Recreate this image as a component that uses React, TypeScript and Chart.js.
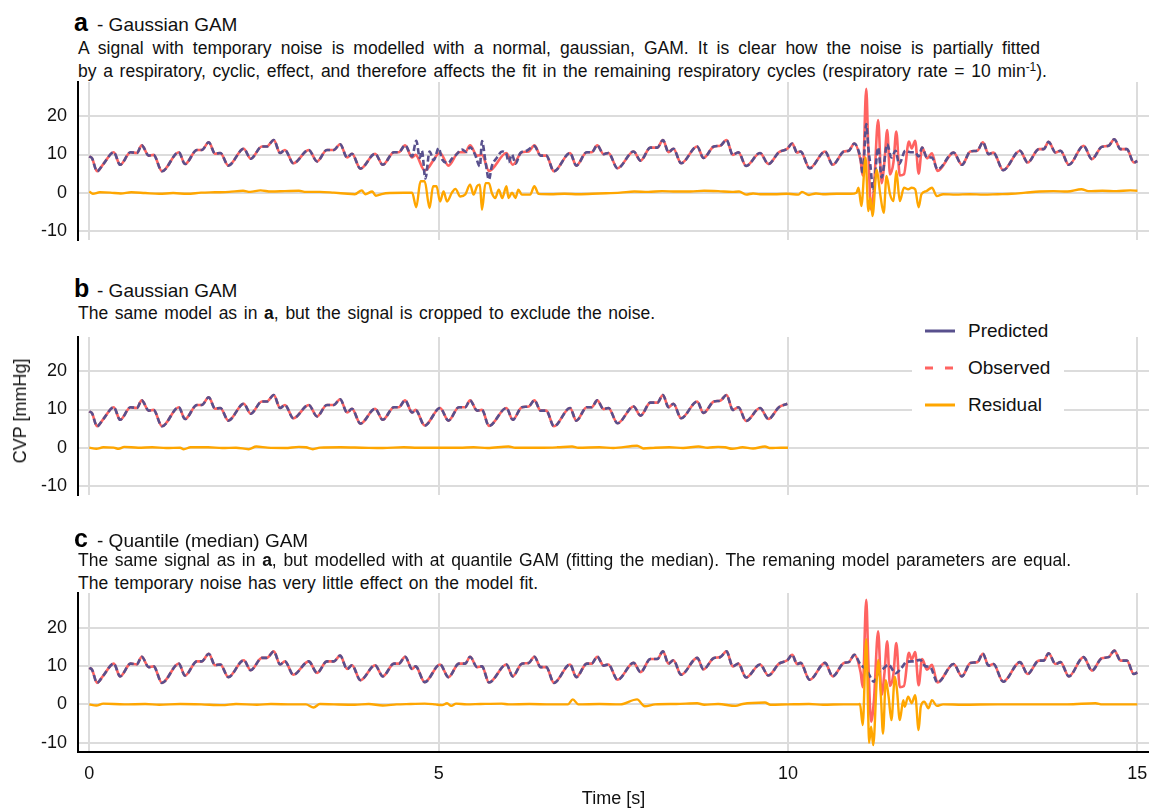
import React, { useEffect, useRef } from "react";
import { Chart, registerables } from "chart.js";

Chart.register(...registerables);

const FONT = "'Liberation Sans', Arial, Helvetica, sans-serif";

// ---- data (time [s], CVP [mmHg]) ----
const observed: [number, number][] = [
  [0.00, 9.5], [0.04, 9.0], [0.11, 5.6], [0.20, 7.5], [0.35, 10.6], [0.44, 7.3], [0.59, 10.6], [0.68, 10.4],
  [0.75, 12.4], [0.85, 9.7], [0.92, 9.9], [1.04, 5.6], [1.28, 10.6], [1.37, 7.5], [1.54, 11.2], [1.61, 11.2],
  [1.71, 13.2], [1.80, 10.2], [1.875, 10.4], [1.99, 7.1], [2.21, 11.5], [2.31, 8.9], [2.47, 12.1], [2.54, 12.1],
  [2.64, 13.8], [2.73, 10.4], [2.80, 11.2], [2.92, 7.7], [3.14, 11.2], [3.26, 8.2], [3.40, 11.2], [3.50, 11.2],
  [3.59, 12.7], [3.69, 9.2], [3.76, 10.2], [3.88, 6.3], [4.09, 10.2], [4.20, 7.3], [4.36, 10.6], [4.43, 10.6],
  [4.52, 12.4], [4.62, 9.2], [4.67, 9.9], [4.80, 5.8], [5.02, 10.4], [5.14, 7.1], [5.29, 10.6], [5.38, 10.6],
  [5.45, 12.4], [5.55, 9.7], [5.62, 9.9], [5.72, 5.7], [5.97, 10.4], [6.06, 7.3], [6.19, 10.6], [6.29, 10.8],
  [6.37, 12.4], [6.46, 9.7], [6.54, 9.7], [6.65, 5.6], [6.88, 10.4], [6.97, 7.1], [7.12, 10.6], [7.19, 10.6],
  [7.27, 12.4], [7.36, 10.1], [7.43, 10.4], [7.56, 6.4], [7.79, 10.8], [7.89, 8.4], [8.03, 11.8], [8.13, 11.8],
  [8.21, 13.8], [8.29, 10.6], [8.36, 11.5], [8.47, 7.7], [8.70, 12.1], [8.79, 9.1], [8.94, 12.1], [9.03, 12.3],
  [9.12, 13.8], [9.21, 9.9], [9.29, 10.6], [9.40, 7.0], [9.60, 10.4], [9.72, 7.5], [9.87, 10.6], [9.99, 11.5],
  [10.06, 12.9], [10.13, 10.5], [10.18, 10.8], [10.31, 6.4], [10.53, 10.8], [10.64, 7.3], [10.80, 10.8], [10.87, 11.0],
  [10.95, 12.9], [11.04, 8.3], [11.07, 4.5], [11.12, 27.2], [11.15, 11.0], [11.19, -4.5], [11.23, 1.0], [11.29, 19.0],
  [11.34, 2.5], [11.38, 8.0], [11.42, 16.4], [11.46, 4.8], [11.51, 8.0], [11.55, 16.0], [11.60, 4.5], [11.66, 4.8],
  [11.73, 13.4], [11.77, 11.6], [11.82, 13.6], [11.87, 5.0], [11.92, 11.8], [11.99, 9.0], [12.06, 10.3], [12.14, 5.7],
  [12.37, 10.5], [12.49, 7.3], [12.61, 10.8], [12.71, 11.0], [12.79, 13.2], [12.87, 10.1], [12.94, 10.5], [13.08, 5.9],
  [13.32, 11.0], [13.43, 7.9], [13.59, 11.4], [13.66, 11.4], [13.73, 13.3], [13.83, 10.5], [13.90, 11.0], [14.02, 7.3],
  [14.23, 12.3], [14.35, 8.8], [14.49, 12.0], [14.59, 12.3], [14.67, 14.0], [14.76, 11.4], [14.85, 11.4], [14.95, 7.9],
  [15.00, 8.3],
];

// Gaussian GAM prediction where it departs from the observed signal
const predictedA_win1: [number, number][] = [
  [4.62, 9.5], [4.68, 13.6], [4.73, 9.1], [4.76, 11.0], [4.81, 3.7], [4.87, 10.8], [4.93, 8.5], [5.00, 11.7],
  [5.05, 8.7], [5.14, 7.8], [5.19, 8.9], [5.26, 10.1], [5.33, 11.3], [5.40, 10.7], [5.45, 11.9], [5.52, 10.0],
  [5.59, 6.9], [5.62, 13.5], [5.67, 8.2], [5.72, 3.4], [5.76, 6.9], [5.83, 9.1], [5.91, 10.8], [5.97, 10.1],
  [6.00, 8.0], [6.05, 10.0], [6.10, 7.6], [6.17, 10.4], [6.26, 11.0], [6.37, 12.2],
];
const predictedA_win2: [number, number][] = [
  [11.00, 11.5], [11.04, 8.8], [11.07, 4.8], [11.12, 18.0], [11.15, 11.8], [11.18, 7.0], [11.22, 0.4], [11.29, 11.8],
  [11.34, 4.0], [11.42, 12.7], [11.48, 9.2], [11.54, 11.0], [11.59, 7.5], [11.68, 11.0], [11.75, 10.6], [11.82, 10.6],
  [11.87, 9.5], [11.92, 11.8], [11.99, 9.2], [12.06, 9.2], [12.14, 6.1],
];
// Quantile GAM prediction inside the noise window
const predictedC_win: [number, number][] = [
  [11.04, 10.3], [11.10, 9.4], [11.15, 8.1], [11.23, 5.9], [11.29, 8.1], [11.37, 9.4], [11.44, 10.3], [11.54, 8.1],
  [11.62, 9.4], [11.70, 11.1], [11.80, 11.2], [11.89, 11.6], [11.96, 10.0], [12.04, 9.6],
];

const residualA: [number, number][] = [
  [0.00, 0.3], [0.05, -0.3], [0.15, 0.1], [0.30, 0.0], [0.45, -0.2], [0.60, 0.1], [0.80, -0.1], [1.00, -0.3],
  [1.20, -0.1], [1.40, -0.3], [1.60, 0.0], [1.80, 0.1], [2.00, 0.2], [2.20, 0.5], [2.30, 0.2], [2.45, 0.6],
  [2.60, 0.3], [2.80, 0.4], [3.00, 0.5], [3.10, 0.2], [3.30, 0.2], [3.50, 0.0], [3.65, -0.2], [3.80, -0.4],
  [3.90, 0.6], [3.95, -0.4], [4.05, 0.3], [4.10, -0.8], [4.20, -0.3], [4.30, -0.1], [4.50, 0.0], [4.62, 0.0],
  [4.68, -3.8], [4.74, 3.0], [4.80, 3.0], [4.87, -4.0], [4.92, 1.7], [4.97, 1.7], [5.02, -2.3], [5.07, 0.3],
  [5.12, -2.3], [5.19, 0.0], [5.24, 1.0], [5.31, -1.0], [5.38, -0.5], [5.45, 2.1], [5.50, -0.5], [5.55, 1.7],
  [5.59, 2.1], [5.62, -4.5], [5.67, 2.5], [5.72, 2.5], [5.76, 0.0], [5.81, -1.4], [5.86, 0.8], [5.91, -1.4],
  [5.97, 1.7], [6.00, -1.4], [6.05, 0.0], [6.10, -1.4], [6.14, 0.8], [6.19, -0.5], [6.31, -0.5], [6.37, 1.7],
  [6.43, -0.3], [6.60, -0.4], [6.80, -0.3], [7.00, -0.4], [7.30, -0.2], [7.60, 0.0], [7.80, 0.3], [8.00, 0.2],
  [8.20, 0.4], [8.40, 0.3], [8.60, 0.3], [8.80, 0.5], [9.00, 0.4], [9.20, 0.2], [9.30, 0.3], [9.40, -0.5],
  [9.50, -0.2], [9.60, -0.4], [9.80, -0.4], [10.00, -0.3], [10.15, -0.5], [10.20, 0.2], [10.30, -0.6], [10.40, -0.2],
  [10.50, -0.4], [10.70, -0.3], [10.90, -0.3], [10.98, 0.0], [11.01, 1.3], [11.05, -3.5], [11.11, 9.2], [11.15, -4.8],
  [11.18, -1.3], [11.21, -6.1], [11.27, 6.1], [11.32, -0.4], [11.37, -5.3], [11.41, 4.4], [11.46, -0.4], [11.51, -2.2],
  [11.55, 5.7], [11.60, -2.2], [11.66, 1.3], [11.72, 0.9], [11.77, 1.3], [11.82, 0.9], [11.87, -3.8], [11.91, -0.4],
  [11.98, 0.4], [12.06, 1.3], [12.13, -0.9], [12.22, -0.4], [12.40, -0.5], [12.60, -0.4], [12.80, -0.5], [13.00, -0.4],
  [13.20, -0.3], [13.40, 0.0], [13.60, 0.3], [13.80, 0.4], [14.00, 0.3], [14.20, 0.9], [14.30, 0.4], [14.50, 0.5],
  [14.70, 0.4], [14.90, 0.6], [15.00, 0.5],
];

const residualB: [number, number][] = [
  [0.00, 0.0], [0.10, -0.3], [0.20, 0.1], [0.35, 0.0], [0.42, -0.3], [0.50, 0.2], [0.70, 0.0], [0.90, 0.1],
  [1.10, -0.1], [1.30, 0.0], [1.35, -0.4], [1.45, 0.1], [1.70, 0.1], [1.90, -0.1], [2.10, 0.0], [2.28, -0.4],
  [2.39, 0.3], [2.55, 0.0], [2.80, -0.1], [3.00, 0.2], [3.10, 0.1], [3.20, -0.4], [3.30, 0.0], [3.60, 0.1],
  [3.90, 0.0], [4.20, -0.1], [4.50, 0.1], [4.70, 0.0], [5.00, 0.0], [5.30, 0.0], [5.50, 0.1], [5.70, -0.1],
  [6.00, 0.3], [6.10, 0.0], [6.50, 0.0], [6.70, 0.1], [6.91, 0.3], [7.00, 0.0], [7.30, 0.1], [7.50, -0.1],
  [7.84, 0.5], [7.93, -0.2], [8.10, 0.0], [8.30, 0.1], [8.50, -0.1], [8.72, 0.3], [8.85, 0.0], [9.00, 0.2],
  [9.10, 0.1], [9.20, -0.3], [9.35, 0.1], [9.50, -0.2], [9.67, 0.3], [9.75, -0.1], [9.90, 0.0], [10.00, 0.0],
];

const residualC: [number, number][] = [
  [0.00, 0.0], [0.10, -0.3], [0.20, 0.2], [0.50, 0.0], [0.80, 0.1], [1.00, -0.1], [1.30, 0.1], [1.60, 0.0],
  [1.90, -0.2], [2.10, 0.1], [2.40, -0.1], [2.60, 0.1], [2.90, 0.0], [3.10, 0.0], [3.21, -0.8], [3.30, 0.1],
  [3.50, 0.0], [3.80, -0.1], [4.00, 0.1], [4.20, -0.3], [4.40, 0.0], [4.60, 0.1], [4.80, 0.2], [4.95, 0.0],
  [5.05, -0.2], [5.12, 0.3], [5.18, -0.4], [5.25, 0.2], [5.40, 0.0], [5.60, 0.1], [5.90, 0.2], [6.00, 0.0],
  [6.30, 0.1], [6.60, 0.0], [6.85, 0.0], [6.92, 1.3], [7.00, 0.0], [7.30, 0.1], [7.60, 0.0], [7.84, 1.3],
  [7.95, -0.5], [8.10, 0.0], [8.40, 0.1], [8.70, 0.3], [8.80, -0.1], [9.00, 0.1], [9.25, -0.4], [9.35, 0.1],
  [9.67, 0.5], [9.75, -0.1], [10.00, 0.0], [10.30, 0.1], [10.50, -0.1], [10.80, 0.0], [11.01, 0.0], [11.03, 0.1],
  [11.07, -5.4], [11.12, 17.0], [11.15, -4.1], [11.16, -10.0], [11.19, -5.8], [11.22, -10.6], [11.27, 6.3], [11.29, 11.6],
  [11.33, 2.0], [11.36, -7.6], [11.40, 6.3], [11.44, 2.0], [11.48, -4.1], [11.53, 7.2], [11.56, 3.7], [11.60, -4.1],
  [11.65, 1.1], [11.67, -0.6], [11.72, 2.0], [11.77, 0.3], [11.82, 2.4], [11.87, -6.7], [11.90, -0.6], [11.95, 0.7],
  [12.01, -1.0], [12.06, 1.1], [12.13, -0.4], [12.22, 0.0], [12.50, -0.1], [13.00, 0.0], [13.50, 0.0], [14.00, 0.0],
  [14.40, 0.3], [14.50, 0.0], [15.00, 0.0],
];

const xTicks = [0, 5, 10, 15];
const yTicks = [-10, 0, 10, 20];
const X_MIN = -0.162;
const X_MAX = 15.167;
const Y_MIN = -12.4;
const Y_MAX = 29.0;

const C_PRED = "#58508d";
const C_OBS = "#ff6361";
const C_RES = "#ffa600";
const C_GRID = "#dcdcdc";

const byTime = (a: [number, number], b: [number, number]) => a[0] - b[0];
const toXY = (pairs: [number, number][]) => pairs.map(([x, y]) => ({ x, y }));

const predictedA = [
  ...observed.filter(([t]) => t < 4.6 || (t > 6.4 && t < 10.98) || t > 12.15),
  ...predictedA_win1,
  ...predictedA_win2,
].sort(byTime);
const predictedB = observed.filter(([t]) => t <= 10.0);
const observedB = observed.filter(([t]) => t <= 10.0);
const predictedC = [
  ...observed.filter(([t]) => t < 11.0 || t > 12.1),
  ...predictedC_win,
].sort(byTime);

function makeSets(obs: [number, number][], pred: [number, number][], res: [number, number][]) {
  return [
    { label: "Residual", data: toXY(res), borderColor: C_RES, borderWidth: 2.4, order: 1 },
    { label: "Predicted", data: toXY(pred), borderColor: C_PRED, borderWidth: 2.6, borderDash: [6, 3], order: 2 },
    { label: "Observed", data: toXY(obs), borderColor: C_OBS, borderWidth: 2.6, order: 3 },
  ];
}

type PanelProps = {
  plotTop: number;
  plotH: number;
  sets: any[];
  bottomAxis?: boolean;
};

const PAD = 30;
const CANVAS_W = 1169;

function Panel({ plotTop, plotH, sets, bottomAxis }: PanelProps) {
  const ref = useRef<HTMLCanvasElement>(null);
  const AXIS_H = 61;
  const canvasTop = plotTop - PAD;
  const canvasBottom = bottomAxis ? 830 : plotTop + plotH + PAD;
  const canvasH = canvasBottom - canvasTop;
  const padBottom = bottomAxis ? canvasBottom - (plotTop + plotH) - AXIS_H : PAD;

  useEffect(() => {
    const tickFont = { family: FONT, size: 18 };
    const chart = new Chart(ref.current as HTMLCanvasElement, {
      type: "line",
      data: { datasets: sets },
      options: {
        responsive: false,
        animation: false,
        devicePixelRatio: 1,
        events: [],
        layout: { padding: { top: PAD, bottom: padBottom, left: 0, right: CANVAS_W - 1149 } },
        elements: {
          point: { radius: 0 },
          line: { cubicInterpolationMode: "monotone", borderCapStyle: "butt", borderJoinStyle: "round" },
        },
        plugins: { legend: { display: false }, tooltip: { enabled: false } },
        scales: {
          x: {
            type: "linear",
            min: X_MIN,
            max: X_MAX,
            afterBuildTicks: (s: any) => { s.ticks = xTicks.map((v) => ({ value: v })); },
            afterFit: (s: any) => { s.height = bottomAxis ? AXIS_H : 0; },
            border: { display: !!bottomAxis, color: "#000", width: 2 },
            grid: { color: C_GRID, lineWidth: 2, drawTicks: false },
            ticks: { display: !!bottomAxis, padding: 11, font: tickFont, color: "#111", maxRotation: 0 },
            title: {
              display: !!bottomAxis,
              text: "Time [s]",
              font: { family: FONT, size: 18 },
              color: "#111",
              padding: { top: 4, bottom: 3 },
            },
          },
          y: {
            type: "linear",
            min: Y_MIN,
            max: Y_MAX,
            afterBuildTicks: (s: any) => { s.ticks = yTicks.map((v) => ({ value: v })); },
            afterFit: (s: any) => { s.width = 78; },
            border: { display: true, color: "#000", width: 2 },
            grid: { color: C_GRID, lineWidth: 2, drawTicks: false },
            ticks: { padding: 11, font: tickFont, color: "#111" },
          },
        },
      } as any,
    });
    return () => chart.destroy();
  }, []);

  return (
    <canvas
      ref={ref}
      width={CANVAS_W}
      height={canvasH}
      style={{ position: "absolute", left: 0, top: canvasTop, width: CANVAS_W, height: canvasH }}
    />
  );
}

const SUB = 17.5;
const subStyle = (top: number, width: number): React.CSSProperties => ({
  position: "absolute",
  left: 78,
  top,
  width,
  fontSize: SUB,
  lineHeight: `${SUB}px`,
  textAlign: "justify",
  textAlignLast: "justify" as any,
  color: "#111",
});

function Title({ top, letter, text }: { top: number; letter: string; text: string }) {
  // top = baseline
  return (
    <>
      <div style={{ position: "absolute", left: 74, top: top - 21.2, fontSize: 25, lineHeight: "25px", fontWeight: 700, color: "#000" }}>
        {letter}
      </div>
      <div style={{ position: "absolute", left: 97, top: top - 16.1, fontSize: 19, lineHeight: "19px", color: "#111", whiteSpace: "nowrap" }}>
        {text}
      </div>
    </>
  );
}

function LegendItem({ cy, color, dashed, label }: { cy: number; color: string; dashed?: boolean; label: string }) {
  return (
    <>
      <svg style={{ position: "absolute", left: 925, top: cy - 3, width: 31, height: 6 }} width={31} height={6}>
        <line x1={0} y1={3} x2={30} y2={3} stroke={color} strokeWidth={3} strokeDasharray={dashed ? "8 12" : undefined} />
      </svg>
      <div style={{ position: "absolute", left: 968, top: cy - 11, height: 22, lineHeight: "22px", fontSize: 19, color: "#111", whiteSpace: "nowrap" }}>
        {label}
      </div>
    </>
  );
}

export default function App() {
  const setsA = makeSets(observed, predictedA, residualA);
  const setsB = makeSets(observedB, predictedB, residualB);
  const setsC = makeSets(observed, predictedC, residualC);
  const sub = (b: number) => b - 0.8465 * SUB;

  return (
    <div style={{ position: "absolute", left: 0, top: 0, width: 1149, height: 811, overflow: "hidden", background: "#fff", fontFamily: FONT }}>
      {/* panel a */}
      <Title top={31} letter="a" text="- Gaussian GAM" />
      <div style={subStyle(sub(54.5), 962)}>
        A signal with temporary noise is modelled with a normal, gaussian, GAM. It is clear how the noise is partially fitted
      </div>
      <div style={subStyle(sub(77.5), 969)}>
        by a respiratory, cyclic, effect, and therefore affects the fit in the remaining respiratory cycles (respiratory rate = 10 min
        <sup style={{ fontSize: 12, lineHeight: 0, verticalAlign: "6px" }}>-1</sup>).
      </div>
      <Panel plotTop={82} plotH={158} sets={setsA} />

      {/* panel b */}
      <Title top={297.5} letter="b" text="- Gaussian GAM" />
      <div style={subStyle(sub(320), 577)}>
        The same model as in <b>a</b>, but the signal is cropped to exclude the noise.
      </div>
      <Panel plotTop={337} plotH={158} sets={setsB} />

      {/* panel c */}
      <Title top={547} letter="c" text="- Quantile (median) GAM" />
      <div style={subStyle(sub(567), 993)}>
        The same signal as in <b>a</b>, but modelled with at quantile GAM (fitting the median). The remaning model parameters are equal.
      </div>
      <div style={subStyle(sub(590), 460)}>
        The temporary noise has very little effect on the model fit.
      </div>
      <Panel plotTop={593} plotH={159} sets={setsC} bottomAxis />

      {/* legend */}
      <div style={{ position: "absolute", left: 912, top: 314, width: 152, height: 110, background: "#fff" }} />
      <LegendItem cy={331} color={C_PRED} label="Predicted" />
      <LegendItem cy={368} color={C_OBS} dashed label="Observed" />
      <LegendItem cy={405} color={C_RES} label="Residual" />

      {/* shared y axis title */}
      <div
        style={{
          position: "absolute",
          left: 20,
          top: 411,
          transform: "translate(-50%, -50%) rotate(-90deg)",
          fontSize: 18,
          lineHeight: "18px",
          whiteSpace: "nowrap",
          color: "#111",
        }}
      >
        CVP [mmHg]
      </div>
    </div>
  );
}
